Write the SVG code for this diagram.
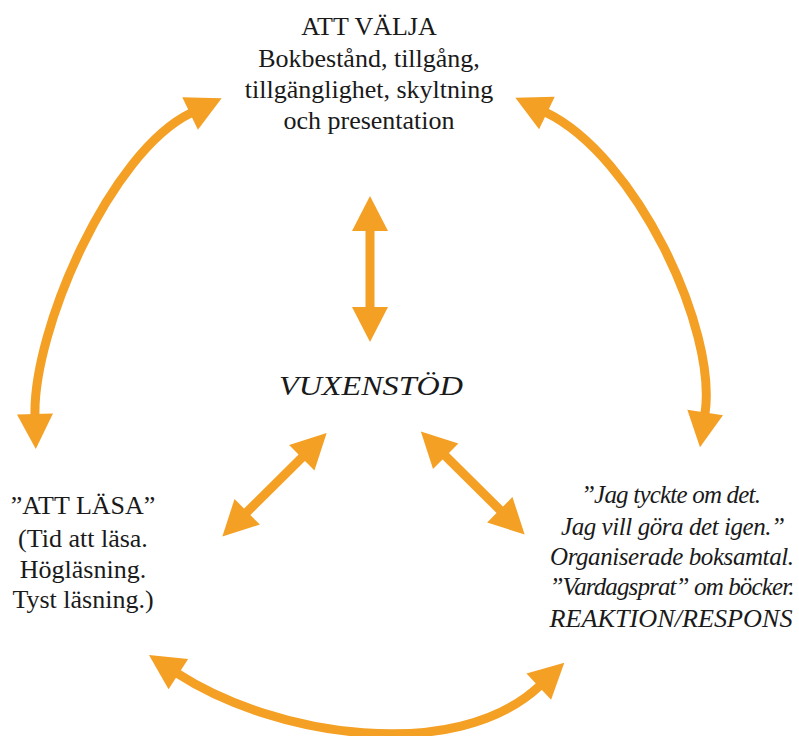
<svg xmlns="http://www.w3.org/2000/svg" width="799" height="736" viewBox="0 0 799 736">
<style>
text{font-family:"Liberation Serif","Times New Roman",serif;fill:#1a1a1a;text-anchor:middle}
.n{font-size:26px}
.i{font-size:25px;font-style:italic}
.c{font-size:28px;font-style:italic}
.a{fill:none;stroke:#F4A024;stroke-width:9;marker-start:url(#h);marker-end:url(#h)}
</style>
<defs>
<marker id="h" markerUnits="userSpaceOnUse" viewBox="0 -18 35 36" refX="1" refY="0" markerWidth="35" markerHeight="36" orient="auto-start-reverse" overflow="visible">
<path d="M0,-18 L35,0 L0,18 Z" fill="#F4A024"/>
</marker>
</defs>
<rect width="799" height="736" fill="#fff"/>
<g id="connectors">
<path class="a" d="M35,415 C33,330 110,152 191,113"/>
<path class="a" d="M546,112.5 C636,156 717.5,329.5 705,413.5"/>
<path class="a" d="M177.5,673.5 C273.9,736.1 455.6,764.7 539.5,686"/>
<path class="a" d="M370,230 L370,308"/>
<path class="a" d="M246.5,512.5 L302.5,457"/>
<path class="a" d="M445,455.5 L500.5,510.5"/>
</g>
<g id="att-valja">
<text class="n" x="369" y="35">ATT VÄLJA</text>
<text class="n" x="369" y="67">Bokbestånd, tillgång,</text>
<text class="n" x="369" y="98">tillgänglighet, skyltning</text>
<text class="n" x="369" y="129">och presentation</text>
</g>
<g id="vuxenstod">
<text class="c" x="371" y="395" textLength="184" lengthAdjust="spacingAndGlyphs">VUXENSTÖD</text>
</g>
<g id="att-lasa">
<text class="n" x="83" y="514">”ATT LÄSA”</text>
<text class="n" x="83" y="547">(Tid att läsa.</text>
<text class="n" x="83" y="578">Högläsning.</text>
<text class="n" x="83" y="608">Tyst läsning.)</text>
</g>
<g id="reaktion">
<text class="i" x="671" y="503" textLength="180">”Jag tyckte om det.</text>
<text class="i" x="673" y="535" textLength="224">Jag vill göra det igen.”</text>
<text class="i" x="672" y="565" textLength="244">Organiserade boksamtal.</text>
<text class="i" x="672" y="595" textLength="245">”Vardagsprat” om böcker.</text>
<text class="i" x="671" y="627" textLength="243" lengthAdjust="spacingAndGlyphs">REAKTION/RESPONS</text>
</g>
</svg>
